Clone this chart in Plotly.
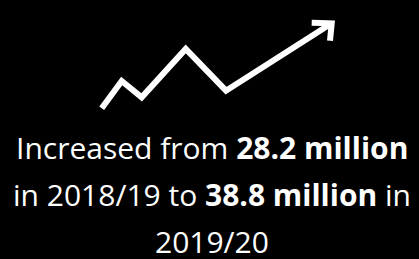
import plotly.graph_objects as go

# Zigzag trend line (canvas coordinates, y downwards)
trend_x = [101.7, 121.7, 141.7, 185.7, 226.0, 331.7]
trend_y = [108.3, 81.0, 97.3, 49.0, 90.7, 23.3]
# Arrow head (open chevron)
head_x = [311.7, 331.7, 330.0]
head_y = [22.7, 23.3, 40.7]

text_lines = [
    "Increased from <b>28.2 million</b>",
    "in 2018/19 to <b>38.8 million</b> in",
    "2019/20",
]
line_y = [147, 194, 241.5]

W, H = 419, 259
FONT = "Open Sans"

fig = go.Figure()
fig.add_trace(go.Scatter(x=trend_x, y=trend_y, mode="lines",
                         line=dict(color="white", width=6), hoverinfo="skip"))
fig.add_trace(go.Scatter(x=head_x, y=head_y, mode="lines",
                         line=dict(color="white", width=6), hoverinfo="skip"))

for t, y in zip(text_lines, line_y):
    fig.add_annotation(x=212, y=y, xref="x", yref="y", text=t, showarrow=False,
                       xanchor="center", yanchor="middle",
                       font=dict(family=FONT, size=30, color="white"))

fig.update_layout(
    width=W, height=H, margin=dict(l=0, r=0, t=0, b=0),
    paper_bgcolor="black", plot_bgcolor="black", showlegend=False,
    xaxis=dict(range=[0, W], visible=False, fixedrange=True),
    yaxis=dict(range=[H, 0], visible=False, fixedrange=True),
)
fig.write_html("out.html", config={"displayModeBar": False},
               post_script="document.body.style.margin='0';document.body.style.background='black';")
